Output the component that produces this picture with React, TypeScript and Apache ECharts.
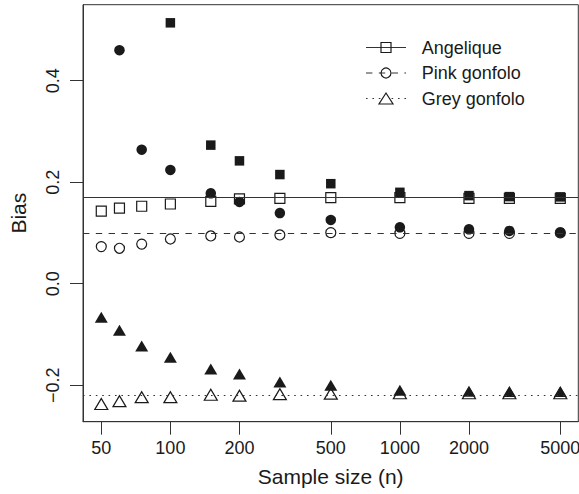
import React, { useEffect, useRef } from "react";
import * as echarts from "echarts";

const sampleSizes = [50, 60, 75, 100, 150, 200, 300, 500, 1000, 2000, 3000, 5000];
const angeliqueOpen = [0.143, 0.149, 0.1525, 0.157, 0.162, 0.167, 0.168, 0.1695, 0.1695, 0.168, 0.168, 0.168];
const angeliqueFilled = [null, null, null, 0.514, 0.273, 0.242, 0.215, 0.197, 0.18, 0.1735, 0.1715, 0.171];
const pinkOpen = [0.073, 0.0697, 0.078, 0.088, 0.094, 0.092, 0.096, 0.1005, 0.099, 0.099, 0.099, 0.1];
const pinkFilled = [null, 0.46, 0.264, 0.224, 0.178, 0.161, 0.139, 0.1255, 0.111, 0.107, 0.104, 0.101];
const greyOpen = [-0.237, -0.2315, -0.2236, -0.2236, -0.219, -0.2207, -0.2177, -0.2167, -0.216, -0.216, -0.216, -0.216];
const greyFilled = [-0.066, -0.092, -0.123, -0.145, -0.168, -0.178, -0.194, -0.2, -0.21, -0.212, -0.2125, -0.2125];
const trueValues = [0.17, 0.1, -0.216];
const seriesNames = ["Angelique", "Pink gonfolo", "Grey gonfolo"];
const xTicks = [50, 100, 200, 500, 1000, 2000, 5000];
const yTicks = [-0.2, 0, 0.2, 0.4];

const FONT = "'Liberation Sans', Arial, Helvetica, sans-serif";
const INK = "#1a1a1a";
const LINE = "#333";

function pts(vals: (number | null)[]) {
  const out: number[][] = [];
  vals.forEach((v, i) => {
    if (v !== null) out.push([Math.log10(sampleSizes[i]), v]);
  });
  return out;
}

const lineTypes: any[] = ["solid", [6.4, 6.4], [1.6, 4.8]];
const openSymbols = ["rect", "circle", "triangle"];
const openSizes: any[] = [10, 10, [13, 11]];
const filledSizes: any[] = [9.5, 10.5, [13, 11]];
const openData = [angeliqueOpen, pinkOpen, greyOpen];
const filledData = [angeliqueFilled, pinkFilled, greyFilled];

export default function App() {
  const ref = useRef<HTMLDivElement>(null);
  useEffect(() => {
    document.body.style.margin = "0";
    const chart = echarts.init(ref.current!, null, { renderer: "svg" });

    const series: any[] = [];
    trueValues.forEach((tv, k) => {
      series.push({
        type: "scatter",
        name: seriesNames[k] + " ref",
        data: [],
        z: 1,
        silent: true,
        markLine: {
          silent: true,
          symbol: "none",
          label: { show: false },
          lineStyle: { color: LINE, width: 1, type: lineTypes[k] },
          data: [{ yAxis: tv }],
        },
      });
    });
    openData.forEach((vals, k) => {
      series.push({
        type: "scatter",
        name: seriesNames[k],
        data: pts(vals),
        symbol: openSymbols[k],
        symbolSize: openSizes[k],
        z: 2,
        itemStyle: { color: "#fff", borderColor: INK, borderWidth: 1.2, opacity: 1 },
      });
    });
    filledData.forEach((vals, k) => {
      series.push({
        type: "scatter",
        name: seriesNames[k] + " filled",
        data: pts(vals),
        symbol: openSymbols[k],
        symbolSize: filledSizes[k],
        z: 3,
        itemStyle: { color: INK, opacity: 1 },
      });
    });

    const lx0 = 366, lx1 = 406, lcx = 386, ltx = 421.7;
    const ly = [47.5, 73, 98.5];
    const graphic: any[] = [];
    ly.forEach((y, k) => {
      graphic.push({
        type: "line",
        shape: { x1: lx0, y1: y, x2: lx1, y2: y },
        style: { stroke: LINE, lineWidth: 1, lineDash: k === 0 ? null : lineTypes[k] },
        z: 10,
      });
      graphic.push({
        type: "text",
        x: ltx,
        y: y,
        style: { text: seriesNames[k], font: `18px ${FONT}`, fill: INK, verticalAlign: "middle", align: "left" },
        z: 10,
      });
    });
    graphic.push({
      type: "rect",
      shape: { x: lcx - 5, y: ly[0] - 5, width: 10, height: 10 },
      style: { fill: "none", stroke: INK, lineWidth: 1.2 },
      z: 11,
    });
    graphic.push({
      type: "circle",
      shape: { cx: lcx, cy: ly[1], r: 5 },
      style: { fill: "none", stroke: INK, lineWidth: 1.2 },
      z: 11,
    });
    graphic.push({
      type: "polygon",
      shape: { points: [[lcx - 7, ly[2] + 5.5], [lcx + 7, ly[2] + 5.5], [lcx, ly[2] - 5.5]] },
      style: { fill: "#fff", stroke: INK, lineWidth: 1.2 },
      z: 11,
    });

    chart.setOption({
      animation: false,
      backgroundColor: "#fff",
      grid: {
        left: 83,
        top: 4.7,
        right: 0.7,
        bottom: 72.3,
        show: true,
        borderColor: LINE,
        borderWidth: 1,
        backgroundColor: "transparent",
        containLabel: false,
        outerBoundsMode: "none",
      },
      xAxis: {
        type: "value",
        min: 1.6193,
        max: 3.7774,
        name: "Sample size (n)",
        nameLocation: "middle",
        nameGap: 44,
        nameMoveOverlap: false,
        nameTextStyle: { fontFamily: FONT, fontSize: 21, color: INK },
        axisLine: { show: true, onZero: false, lineStyle: { color: LINE, width: 1 } },
        axisTick: {
          show: true,
          length: 13,
          lineStyle: { color: LINE, width: 1 },
          customValues: xTicks.map((t) => Math.log10(t)),
        },
        axisLabel: {
          show: true,
          margin: 17,
          fontFamily: FONT,
          fontSize: 18,
          color: INK,
          customValues: xTicks.map((t) => Math.log10(t)),
          formatter: (v: number) => String(Math.round(Math.pow(10, v))),
        },
        splitLine: { show: false },
      },
      yAxis: {
        type: "value",
        min: -0.272,
        max: 0.5497,
        name: "Bias",
        nameLocation: "middle",
        nameGap: 54,
        nameMoveOverlap: false,
        nameTextStyle: { fontFamily: FONT, fontSize: 21, color: INK },
        axisLine: { show: true, onZero: false, lineStyle: { color: LINE, width: 1 } },
        axisTick: {
          show: true,
          length: 13,
          lineStyle: { color: LINE, width: 1 },
          customValues: yTicks,
        },
        axisLabel: {
          show: true,
          rotate: 90,
          margin: 21,
          fontFamily: FONT,
          fontSize: 18,
          color: INK,
          customValues: yTicks,
          formatter: (v: number) =>
            v < 0 ? "\u2212" + Math.abs(v).toFixed(1) : Math.abs(v).toFixed(1),
        },
        splitLine: { show: false },
      },
      series,
      graphic,
    });
    return () => chart.dispose();
  }, []);
  return <div ref={ref} style={{ width: 579, height: 494 }} />;
}
